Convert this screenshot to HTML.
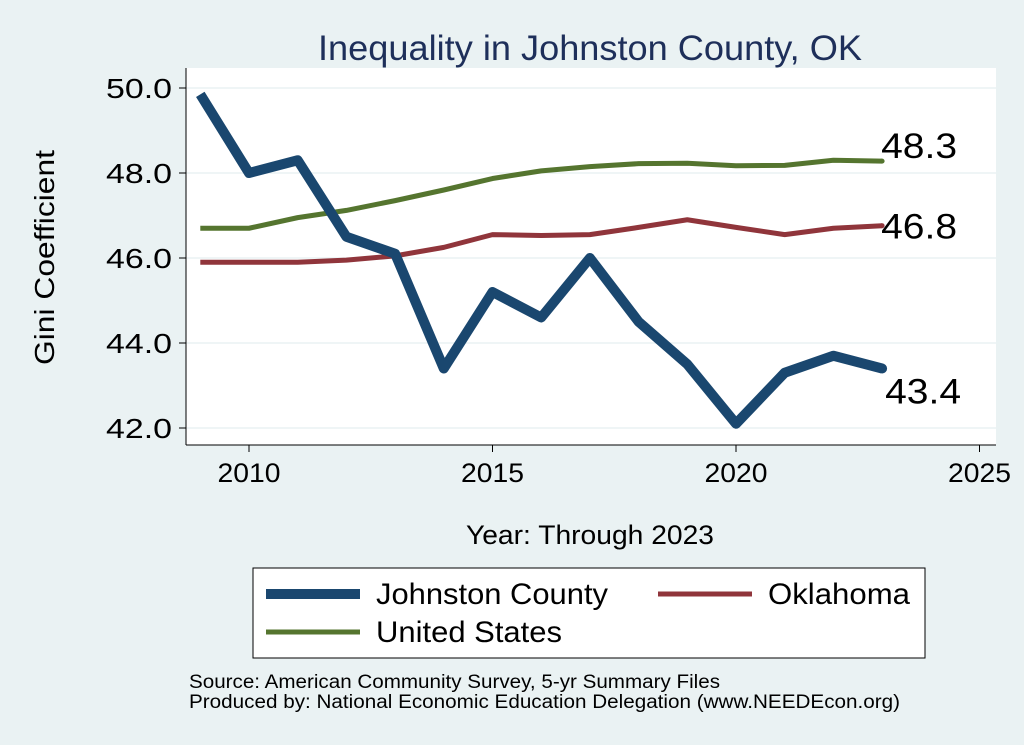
<!DOCTYPE html>
<html><head><meta charset="utf-8"><style>
body{margin:0;background:#eaf2f3;}
svg{display:block;font-family:"Liberation Sans",Arial,sans-serif;}
</style></head><body>
<svg width="1024" height="745" id="c">
<rect x="0" y="0" width="1024" height="745" fill="#eaf2f3"/>
<text x="318" y="60" textLength="544" lengthAdjust="spacingAndGlyphs" font-size="35" fill="#1e2f5a">Inequality in Johnston County, OK</text>
<rect x="186" y="68" width="810" height="377" fill="#fff"/>
<g id="grid"></g><g id="axes"></g><g id="series"></g>
<text x="0" y="0" textLength="215" lengthAdjust="spacingAndGlyphs" font-size="28" transform="translate(54 365) rotate(-90)">Gini Coefficient</text>
<text x="466" y="544" textLength="248" lengthAdjust="spacingAndGlyphs" font-size="27">Year: Through 2023</text>
<g>
<rect x="253" y="568" width="672" height="90" fill="#fff" stroke="#000" stroke-width="1"/>
<g><line x1="266" y1="594" x2="360" y2="594" stroke="#1a476f" stroke-width="10"/><text x="376" y="604" textLength="232" lengthAdjust="spacingAndGlyphs" font-size="30">Johnston County</text></g>
<g><line x1="658" y1="594" x2="752" y2="594" stroke="#90353b" stroke-width="5"/><text x="768" y="604" textLength="142" lengthAdjust="spacingAndGlyphs" font-size="30">Oklahoma</text></g>
<g><line x1="266" y1="632" x2="360" y2="632" stroke="#55752f" stroke-width="5"/><text x="376" y="642" textLength="186" lengthAdjust="spacingAndGlyphs" font-size="30">United States</text></g>
</g>
<text x="189" y="688" textLength="531" lengthAdjust="spacingAndGlyphs" font-size="19">Source: American Community Survey, 5-yr Summary Files</text>
<text x="189" y="708" textLength="711" lengthAdjust="spacingAndGlyphs" font-size="19">Produced by: National Economic Education Delegation (www.NEEDEcon.org)</text>
</svg>
<script>
const years=[2009,2010,2011,2012,2013,2014,2015,2016,2017,2018,2019,2020,2021,2022,2023];
const johnston=[49.85,48.0,48.3,46.5,46.1,43.4,45.2,44.6,46.0,44.5,43.5,42.1,43.3,43.7,43.4];
const oklahoma=[45.9,45.9,45.9,45.95,46.05,46.25,46.55,46.53,46.55,46.72,46.9,46.72,46.55,46.7,46.76];
const unitedStates=[46.7,46.7,46.95,47.12,47.35,47.6,47.87,48.05,48.15,48.22,48.23,48.17,48.18,48.3,48.28];
const yTicks=[42,44,46,48,50];
const xTicks=[2010,2015,2020,2025];
const NS='http://www.w3.org/2000/svg';
const X=v=>249+(v-2010)*48.7;
const Y=v=>428-(v-42)*42.5;
function mk(t,a,p){const e=document.createElementNS(NS,t);for(const k in a)e.setAttribute(k,a[k]);p.appendChild(e);return e;}
const grid=document.getElementById('grid'),axes=document.getElementById('axes'),ser=document.getElementById('series');
mk('line',{x1:186,y1:68,x2:186,y2:445,stroke:'#000','stroke-width':1},axes);
mk('line',{x1:186,y1:445,x2:996,y2:445,stroke:'#000','stroke-width':1},axes);
yTicks.forEach(t=>{
 const g=mk('line',{x1:186,y1:Y(t),x2:996,y2:Y(t),stroke:'#eaf2f3','stroke-width':1.5},grid);
 
 
 mk('line',{x1:179,y1:Y(t),x2:186,y2:Y(t),stroke:'#000'},axes);
 const tx=mk('text',{x:172,y:Y(t)+10,'text-anchor':'end','font-size':28,textLength:66,lengthAdjust:'spacingAndGlyphs'},axes);tx.textContent=t.toFixed(1);
 
 
});
xTicks.forEach(t=>{
 mk('line',{x1:X(t),y1:445,x2:X(t),y2:452,stroke:'#000'},axes);
 const tx=mk('text',{x:X(t),y:482,'text-anchor':'middle','font-size':27,textLength:63,lengthAdjust:'spacingAndGlyphs'},axes);tx.textContent=t;
 
 
});
function line(data,color,w,name,lx,ly){
 const p=mk('polyline',{points:data.map((v,i)=>X(years[i])+','+Y(v)).join(' '),fill:'none',stroke:color,'stroke-width':w,'stroke-linejoin':'round'},ser);
 
 
 const last=data[data.length-1];
 mk('circle',{cx:X(years[years.length-1]),cy:Y(last),r:w/2,fill:color},ser);
 const t=mk('text',{x:X(years[years.length-1])+lx,y:Y(last)+ly,'font-size':35,textLength:76,lengthAdjust:'spacingAndGlyphs'},ser);t.textContent=last.toFixed(1);
 
 
}
line(unitedStates,'#55752f',5,'united-states-line',-1,-3);
line(oklahoma,'#90353b',5,'oklahoma-line',-1,13);
line(johnston,'#1a476f',10,'johnston-county-line',3,35);
</script>
</body></html>
